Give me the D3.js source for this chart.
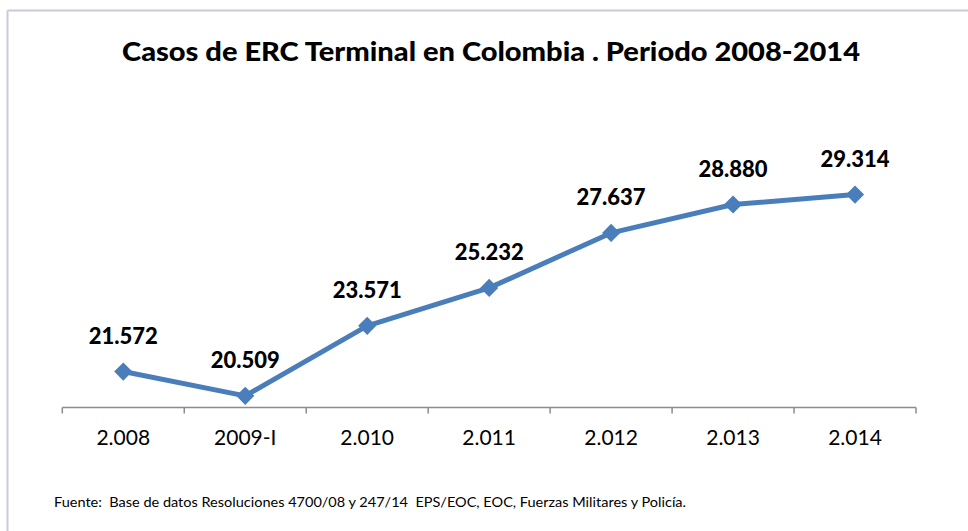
<!DOCTYPE html>
<html>
<head>
<meta charset="utf-8">
<script src="https://cdn.jsdelivr.net/npm/d3@7"></script>
<style>
  body { margin: 0; background: #fff; }
  svg { display: block; font-family: Lato, "Open Sans", sans-serif; }
</style>
</head>
<body>
<script>
// chart data
var years = ["2.008", "2009-I", "2.010", "2.011", "2.012", "2.013", "2.014"];
var cases = [21572, 20509, 23571, 25232, 27637, 28880, 29314];
var caseLabels = ["21.572", "20.509", "23.571", "25.232", "27.637", "28.880", "29.314"];
var yDomain = [20000, 30000];

var titleText = "Casos de ERC Terminal en Colombia . Periodo 2008-2014";
var sourceText = "Fuente:  Base de datos Resoluciones 4700/08 y 247/14  EPS/EOC, EOC, Fuerzas Militares y Policía.";

var width = 968,
    height = 531;

var svg = d3.select("body")
    .append("svg")
    .attr("width", width)
    .attr("height", height);

//frame lines (top and left edge of the slide box)
svg.append("line")
    .attr("x1", 7.5).attr("y1", 10.5)
    .attr("x2", width).attr("y2", 10.5)
    .attr("stroke", "#c9c9d9").attr("stroke-width", 2);
svg.append("line")
    .attr("x1", 7.5).attr("y1", 10.5)
    .attr("x2", 7.5).attr("y2", height)
    .attr("stroke", "#c9c9d9").attr("stroke-width", 2);

//title
svg.append("text")
    .attr("x", 122)
    .attr("y", 61)
    .attr("textLength", 738)
    .attr("lengthAdjust", "spacingAndGlyphs")
    .style("font-size", "26px")
    .style("font-weight", "900")
    .style("fill", "#000")
    .text(titleText);

//scales
var x = d3.scaleBand()
    .domain(years)
    .range([62.3, 916])
    .padding(0);

var y = d3.scaleLinear()
    .domain(yDomain)
    .range([407.5, 178.9]);

//category axis, ticks between categories like Excel
var axis = svg.append("g").attr("class", "axis");
axis.append("line")
    .attr("x1", x.range()[0]).attr("x2", x.range()[1])
    .attr("y1", y(yDomain[0])).attr("y2", y(yDomain[0]))
    .attr("stroke", "#8c8c8c").attr("stroke-width", 1.5);

var tickPos = years.map(function(d){ return x(d); }).concat([x.range()[1]]);
axis.selectAll(".tick")
    .data(tickPos)
    .enter()
    .append("line")
    .attr("class", "tick")
    .attr("x1", function(d){ return d; })
    .attr("x2", function(d){ return d; })
    .attr("y1", y(yDomain[0]))
    .attr("y2", y(yDomain[0]) + 6)
    .attr("stroke", "#8c8c8c").attr("stroke-width", 1.5);

axis.selectAll(".catLabel")
    .data(years)
    .enter()
    .append("text")
    .attr("class", "catLabel")
    .attr("x", function(d){ return x(d) + x.bandwidth() / 2; })
    .attr("y", 445)
    .attr("text-anchor", "middle")
    .style("font-size", "21px")
    .style("fill", "#000")
    .text(function(d){ return d; });

//line
var points = years.map(function(d, i){
    return { year: d, value: cases[i], label: caseLabels[i] };
});

var line = d3.line()
    .x(function(d){ return x(d.year) + x.bandwidth() / 2; })
    .y(function(d){ return y(d.value); });

svg.append("path")
    .datum(points)
    .attr("d", line)
    .attr("fill", "none")
    .attr("stroke", "#4a7ebb")
    .attr("stroke-width", 5)
    .attr("stroke-linejoin", "round");

//diamond markers
var diamond = d3.symbol().type(d3.symbolDiamond2).size(210);
svg.selectAll(".marker")
    .data(points)
    .enter()
    .append("path")
    .attr("class", "marker")
    .attr("d", diamond)
    .attr("transform", function(d){
        return "translate(" + (x(d.year) + x.bandwidth() / 2) + "," + y(d.value) + ")";
    })
    .attr("fill", "#4a7ebb");

//data labels
svg.selectAll(".valLabel")
    .data(points)
    .enter()
    .append("text")
    .attr("class", "valLabel")
    .attr("x", function(d){ return x(d.year) + x.bandwidth() / 2; })
    .attr("y", function(d){ return y(d.value) - 28; })
    .attr("text-anchor", "middle")
    .style("font-size", "22px")
    .style("font-weight", "900")
    .style("fill", "#000")
    .text(function(d){ return d.label; });

//source note
svg.append("text")
    .attr("x", 54)
    .attr("y", 507)
    .attr("textLength", 632)
    .attr("lengthAdjust", "spacingAndGlyphs")
    .style("font-size", "14px")
    .style("white-space", "pre")
    .style("fill", "#000")
    .text(sourceText);
</script>
</body>
</html>
